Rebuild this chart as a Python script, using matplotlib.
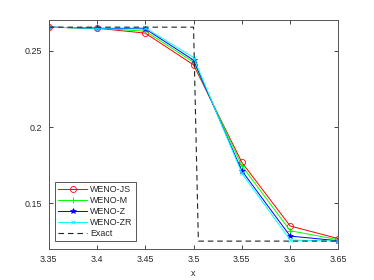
import matplotlib
matplotlib.use('Agg')
import matplotlib.pyplot as plt
from matplotlib.ticker import FuncFormatter

x = [3.35, 3.40, 3.45, 3.50, 3.55, 3.60, 3.65]
weno_js = [0.2655, 0.2648, 0.2616, 0.2408, 0.1769, 0.1352, 0.1269]
weno_m = [0.2655, 0.2648, 0.2629, 0.2426, 0.1747, 0.1321, 0.1262]
weno_z = [0.2655, 0.2648, 0.2644, 0.2439, 0.1714, 0.1286, 0.1255]
weno_zr = [0.2655, 0.2648, 0.2651, 0.2456, 0.1697, 0.1260, 0.1253]

exact_x = [3.35, 3.50, 3.505, 3.65]
exact_y = [0.2655, 0.2655, 0.1253, 0.1253]

x_ticks = [3.35, 3.40, 3.45, 3.50, 3.55, 3.60, 3.65]
y_ticks = [0.15, 0.20, 0.25]

plt.rcParams['font.family'] = ['Liberation Sans', 'DejaVu Sans']
plt.rcParams['font.size'] = 6.4
gray = '#262626'

fig = plt.figure(figsize=(3.74, 2.80), dpi=100)
ax = fig.add_axes([0.13, 0.11, 0.775, 0.8175])

ax.plot(x, weno_js, color='#ff0000', lw=0.7, marker='o', ms=4.3,
        mfc='none', mew=0.6, label='WENO-JS')
ax.plot(x, weno_m, color='#00ff00', lw=0.7, marker='+', ms=4.5,
        mew=0.7, label='WENO-M')
ax.plot(x, weno_z, color='#0000ff', lw=0.7, marker='*', ms=4.0,
        mew=0.5, label='WENO-Z')
ax.plot(x, weno_zr, color='#00ffff', lw=0.7, marker='x', ms=3.5,
        mew=0.6, label='WENO-ZR')
ax.plot(exact_x, exact_y, color='#222222', lw=0.8, dashes=(5, 3.5),
        label='Exact')

ax.set_xlim(3.35, 3.65)
ax.set_ylim(0.12, 0.27)
ax.set_xticks(x_ticks)
ax.set_yticks(y_ticks)
fmt = FuncFormatter(lambda v, p: '%g' % round(v, 4))
ax.xaxis.set_major_formatter(fmt)
ax.yaxis.set_major_formatter(fmt)
ax.tick_params(direction='in', length=3, width=0.6, colors=gray,
               top=True, right=True, pad=4.5, labelsize=6.4)
for s in ax.spines.values():
    s.set_color('#555555')
    s.set_linewidth(0.7)
ax.set_xlabel('x', color=gray, labelpad=3)

leg = ax.legend(loc='lower left', bbox_to_anchor=(0.022, 0.035),
                borderaxespad=0, fancybox=False, framealpha=1,
                edgecolor='#555555', fontsize=6.4, handlelength=3.3,
                handletextpad=0.3, labelspacing=0.22, borderpad=0.35)
leg.get_frame().set_linewidth(0.7)
for t in leg.get_texts():
    t.set_color(gray)

fig.savefig('out.png', dpi=100)
